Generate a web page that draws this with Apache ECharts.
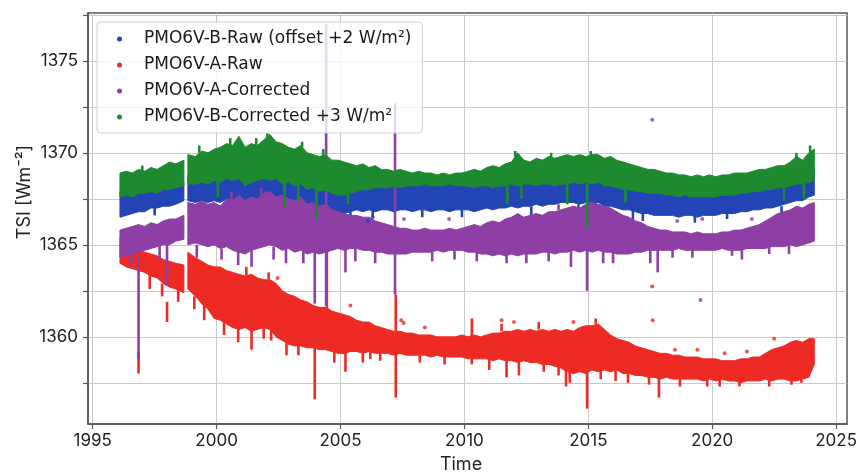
<!DOCTYPE html>
<html>
<head>
<meta charset="utf-8">
<script src="https://cdn.jsdelivr.net/npm/echarts@6/dist/echarts.min.js"></script>
<style>
  html, body { margin: 0; padding: 0; background: #ffffff; }
  #chart { width: 860px; height: 472px; }
</style>
</head>
<body>
<div id="chart"></div>
<script>
// Sample times (decimal year)
const years = [
  1996.10, 1996.35, 1996.60, 1996.85, 1997.10, 1997.35, 1997.60, 1997.85, 1998.10, 1998.35, 1998.68,
  1998.84,
  1999.15, 1999.40, 1999.65, 1999.90,
  2000.15, 2000.40, 2000.65, 2000.90,
  2001.15, 2001.40, 2001.65, 2001.90,
  2002.15, 2002.40, 2002.65, 2002.90,
  2003.15, 2003.40, 2003.65, 2003.90,
  2004.15, 2004.40, 2004.65, 2004.90,
  2005.15, 2005.40, 2005.65, 2005.90,
  2006.15, 2006.40, 2006.65, 2006.90,
  2007.15, 2007.40, 2007.65, 2007.90,
  2008.15, 2008.40, 2008.65, 2008.90,
  2009.15, 2009.40, 2009.65, 2009.90,
  2010.15, 2010.40, 2010.65, 2010.90,
  2011.15, 2011.40, 2011.65, 2011.90,
  2012.15, 2012.40, 2012.65, 2012.90,
  2013.15, 2013.40, 2013.65, 2013.90,
  2014.15, 2014.40, 2014.65, 2014.90,
  2015.15, 2015.40, 2015.65, 2015.90,
  2016.15, 2016.40, 2016.65, 2016.90,
  2017.15, 2017.40, 2017.65, 2017.90,
  2018.15, 2018.40, 2018.65, 2018.90,
  2019.15, 2019.40, 2019.65, 2019.90,
  2020.15, 2020.40, 2020.65, 2020.90,
  2021.15, 2021.40, 2021.65, 2021.90,
  2022.15, 2022.40, 2022.65, 2022.90,
  2023.15, 2023.40, 2023.65, 2023.90,
  2024.12
];

// Interruptions of the record (SOHO loss of contact): [last time before, first time after]
const dataGaps = [[1998.68, 1998.84]];

// PMO6V-B raw (offset +2 W/m2): lower / upper edge of the daily scatter
const bRawLow = [
  1366.5, 1366.6, 1366.7, 1366.8, 1366.8, 1367.0, 1367.0, 1367.1, 1367.1, 1367.2, 1367.4,
  1367.4,
  1367.3, 1367.4, 1367.3, 1367.4,
  1367.3, 1367.5, 1367.3, 1367.4,
  1367.1, 1367.3, 1367.2, 1367.4,
  1367.3, 1367.4, 1367.2, 1367.3,
  1367.1, 1367.2, 1367.0, 1367.1,
  1366.9, 1367.0, 1366.8, 1366.7,
  1366.7, 1366.8, 1366.9, 1366.8,
  1366.9, 1366.8, 1366.9, 1366.9,
  1366.8, 1366.9, 1366.9, 1366.8,
  1366.9, 1366.9, 1366.8, 1366.9,
  1366.9, 1366.8, 1366.9, 1366.9,
  1366.9, 1366.8, 1366.9, 1367.0,
  1366.9, 1367.0, 1367.0, 1367.1,
  1367.0, 1367.1, 1367.1, 1367.2,
  1367.1, 1367.2, 1367.2, 1367.3,
  1367.3, 1367.3, 1367.2, 1367.3,
  1367.2, 1367.3, 1367.1, 1367.1,
  1367.0, 1366.9, 1366.9, 1366.8,
  1366.7, 1366.7, 1366.6, 1366.6,
  1366.6, 1366.6, 1366.5, 1366.6,
  1366.6, 1366.5, 1366.6, 1366.6,
  1366.6, 1366.7, 1366.7, 1366.7,
  1366.8, 1366.8, 1366.9, 1366.9,
  1367.0, 1367.0, 1367.1, 1367.2,
  1367.3, 1367.4, 1367.4, 1367.6,
  1367.7
];
const bRawHigh = [
  1367.9, 1368.0, 1368.0, 1368.1, 1368.1, 1368.2, 1368.1, 1368.2, 1368.3, 1368.3, 1368.4,
  1368.8,
  1368.7, 1368.8, 1368.7, 1368.9,
  1368.8, 1369.0, 1368.9, 1369.0,
  1368.7, 1368.9, 1368.9, 1369.0,
  1369.0, 1369.0, 1368.8, 1368.8,
  1368.7, 1368.8, 1368.5, 1368.6,
  1368.4, 1368.5, 1368.3, 1368.2,
  1368.2, 1368.3, 1368.3, 1368.4,
  1368.4, 1368.4, 1368.4, 1368.4,
  1368.5, 1368.4, 1368.5, 1368.5,
  1368.5, 1368.5, 1368.5, 1368.5,
  1368.5, 1368.5, 1368.5, 1368.5,
  1368.5, 1368.5, 1368.5, 1368.6,
  1368.5, 1368.6, 1368.6, 1368.7,
  1368.7, 1368.7, 1368.7, 1368.7,
  1368.7, 1368.8, 1368.7, 1368.8,
  1368.8, 1368.8, 1368.8, 1368.9,
  1368.8, 1368.9, 1368.7, 1368.7,
  1368.6, 1368.5, 1368.4, 1368.3,
  1368.3, 1368.2, 1368.2, 1368.2,
  1368.1, 1368.1, 1368.0, 1368.1,
  1368.0, 1368.0, 1368.0, 1368.0,
  1368.0, 1368.1, 1368.1, 1368.2,
  1368.2, 1368.2, 1368.3, 1368.3,
  1368.4, 1368.4, 1368.5, 1368.6,
  1368.7, 1368.8, 1368.8, 1369.0,
  1369.1
];

// PMO6V-A raw
const aRawLow = [
  1364.0, 1363.8, 1363.7, 1363.6, 1363.5, 1363.3, 1363.2, 1362.9, 1362.7, 1362.6, 1362.4,
  1362.6,
  1362.2, 1361.8, 1361.5, 1361.0,
  1360.9, 1360.7, 1360.5, 1360.4,
  1360.5, 1360.3, 1360.4, 1360.5,
  1360.4, 1360.0, 1359.8, 1359.6,
  1359.5, 1359.5, 1359.4, 1359.4,
  1359.3, 1359.3, 1359.2, 1359.1,
  1359.1, 1359.2, 1359.2, 1359.1,
  1359.2, 1359.1, 1359.1, 1359.1,
  1359.0, 1359.1, 1359.0, 1359.0,
  1359.0, 1359.0, 1358.9, 1359.0,
  1358.9, 1358.9, 1358.9, 1358.9,
  1358.8, 1358.8, 1358.8, 1358.8,
  1358.7, 1358.8, 1358.7, 1358.7,
  1358.6, 1358.7, 1358.6, 1358.6,
  1358.5, 1358.5, 1358.4, 1358.3,
  1358.1, 1358.0, 1358.1, 1358.0,
  1358.2, 1358.1, 1358.2, 1358.1,
  1358.2, 1358.0, 1358.0, 1357.9,
  1357.9, 1357.8, 1357.8, 1357.7,
  1357.8, 1357.7, 1357.7, 1357.7,
  1357.7, 1357.7, 1357.6, 1357.7,
  1357.6, 1357.7, 1357.6, 1357.6,
  1357.5, 1357.6, 1357.6, 1357.6,
  1357.7, 1357.6, 1357.7, 1357.7,
  1357.6, 1357.6, 1357.7, 1357.8,
  1358.5
];
const aRawHigh = [
  1365.4, 1365.0, 1364.8, 1364.7, 1364.6, 1364.5, 1364.4, 1364.2, 1364.1, 1364.0, 1363.9,
  1364.6,
  1364.3, 1364.1, 1363.9, 1363.8,
  1363.8, 1363.6, 1363.5, 1363.4,
  1363.3, 1363.4, 1363.2, 1363.1,
  1363.1, 1362.9, 1362.5, 1362.3,
  1362.2, 1362.0, 1361.9, 1361.7,
  1361.6, 1361.6, 1361.4, 1361.3,
  1361.2, 1361.1, 1360.9, 1360.8,
  1360.8, 1360.6, 1360.5, 1360.4,
  1360.3, 1360.3, 1360.2, 1360.2,
  1360.1, 1360.1, 1360.1, 1360.0,
  1360.0, 1360.0, 1360.0, 1360.1,
  1360.0, 1360.1, 1360.0, 1360.1,
  1360.2, 1360.2, 1360.3, 1360.3,
  1360.4, 1360.3, 1360.4, 1360.3,
  1360.4, 1360.3, 1360.4, 1360.3,
  1360.4, 1360.3, 1360.5, 1360.6,
  1360.6, 1360.7, 1360.4, 1360.1,
  1359.9, 1359.8, 1359.7, 1359.5,
  1359.4, 1359.3, 1359.2, 1359.1,
  1359.1, 1359.0, 1359.0, 1358.9,
  1358.9, 1358.9, 1358.8, 1358.8,
  1358.8, 1358.7, 1358.7, 1358.7,
  1358.8, 1358.8, 1358.9, 1358.9,
  1359.1, 1359.3, 1359.4, 1359.5,
  1359.7, 1359.8, 1359.7, 1359.9,
  1359.9
];

// PMO6V-A corrected
const aCorLow = [
  1364.3, 1364.4, 1364.5, 1364.6, 1364.7, 1364.8, 1364.9, 1365.0, 1365.0, 1365.2, 1365.3,
  1365.0,
  1365.1, 1365.0, 1364.9, 1365.0,
  1364.8, 1364.9, 1364.7, 1364.6,
  1364.5, 1364.7, 1364.8, 1364.9,
  1365.0, 1364.9, 1364.7, 1364.8,
  1364.6, 1364.7, 1364.5, 1364.6,
  1364.5, 1364.6, 1364.7, 1364.8,
  1364.7, 1364.8, 1364.8, 1364.7,
  1364.7, 1364.6, 1364.6, 1364.5,
  1364.5, 1364.5, 1364.5, 1364.6,
  1364.6, 1364.6, 1364.6, 1364.7,
  1364.6, 1364.7, 1364.7, 1364.7,
  1364.6, 1364.6, 1364.5, 1364.5,
  1364.4, 1364.5, 1364.4, 1364.5,
  1364.4, 1364.5, 1364.5, 1364.5,
  1364.6, 1364.6, 1364.5, 1364.6,
  1364.6, 1364.7, 1364.6, 1364.7,
  1364.6, 1364.7, 1364.6, 1364.6,
  1364.5, 1364.5, 1364.5, 1364.6,
  1364.6, 1364.7, 1364.7, 1364.7,
  1364.7, 1364.7, 1364.8, 1364.7,
  1364.7, 1364.7, 1364.7, 1364.7,
  1364.7, 1364.8, 1364.7, 1364.7,
  1364.7, 1364.8, 1364.8, 1364.8,
  1364.8, 1364.9, 1364.9, 1364.9,
  1365.0, 1364.9, 1365.0, 1365.1,
  1365.2
];
const aCorHigh = [
  1365.8, 1365.9, 1366.0, 1366.1, 1366.0, 1366.2, 1366.1, 1366.3, 1366.4, 1366.4, 1366.6,
  1367.3,
  1367.2, 1367.4, 1367.2, 1367.3,
  1367.1, 1367.5, 1367.4, 1367.7,
  1367.4, 1367.6, 1367.5, 1367.8,
  1367.9, 1367.6, 1367.7, 1367.5,
  1367.4, 1367.6, 1367.2, 1367.3,
  1367.1, 1367.2, 1366.9, 1366.8,
  1366.7, 1366.6, 1366.6, 1366.5,
  1366.5, 1366.3, 1366.2, 1366.1,
  1366.0, 1365.9, 1365.9, 1365.8,
  1365.8, 1365.9, 1365.8, 1365.8,
  1365.8, 1365.9, 1365.8, 1365.9,
  1366.0, 1366.1, 1366.0, 1366.2,
  1366.3, 1366.2, 1366.4, 1366.5,
  1366.7, 1366.5, 1366.6, 1366.7,
  1366.6, 1366.8, 1366.8, 1366.9,
  1367.0, 1367.1, 1367.0, 1367.2,
  1367.3, 1367.2, 1367.1, 1367.0,
  1366.8, 1366.6, 1366.5, 1366.3,
  1366.2, 1366.0, 1365.9, 1365.8,
  1365.8, 1365.7, 1365.7, 1365.7,
  1365.6, 1365.7, 1365.6, 1365.6,
  1365.6, 1365.7, 1365.7, 1365.8,
  1365.8, 1365.9, 1366.0, 1366.1,
  1366.3, 1366.5, 1366.7, 1366.8,
  1366.9, 1367.1, 1367.0, 1367.2,
  1367.3
];

// PMO6V-B corrected (+3 W/m2)
const bCorLow = [
  1367.6, 1367.7, 1367.6, 1367.8, 1367.8, 1367.9, 1367.8, 1368.0, 1368.0, 1368.1, 1368.2,
  1368.3,
  1368.3, 1368.4, 1368.3, 1368.5,
  1368.4, 1368.6, 1368.5, 1368.6,
  1368.2, 1368.4, 1368.5, 1368.6,
  1368.5, 1368.6, 1368.3, 1368.4,
  1368.2, 1368.3, 1368.0, 1368.1,
  1367.9, 1368.0, 1367.8, 1367.7,
  1367.7, 1367.8, 1367.9, 1368.0,
  1368.0, 1368.1, 1368.1, 1368.1,
  1368.2, 1368.1, 1368.2, 1368.2,
  1368.2, 1368.3, 1368.2, 1368.2,
  1368.2, 1368.3, 1368.2, 1368.2,
  1368.2, 1368.1, 1368.2, 1368.2,
  1368.1, 1368.2, 1368.2, 1368.3,
  1368.2, 1368.3, 1368.3, 1368.2,
  1368.3, 1368.3, 1368.2, 1368.3,
  1368.3, 1368.4, 1368.3, 1368.4,
  1368.3, 1368.4, 1368.2, 1368.2,
  1368.1, 1368.0, 1368.0, 1367.9,
  1367.9, 1367.8, 1367.8, 1367.8,
  1367.7, 1367.7, 1367.6, 1367.7,
  1367.6, 1367.6, 1367.6, 1367.6,
  1367.6, 1367.7, 1367.7, 1367.7,
  1367.8, 1367.8, 1367.9, 1367.9,
  1368.0, 1368.0, 1368.1, 1368.1,
  1368.2, 1368.3, 1368.3, 1368.4,
  1368.5
];
const bCorHigh = [
  1368.9, 1369.0, 1368.9, 1369.1, 1369.0, 1369.2, 1369.1, 1369.3, 1369.5, 1369.4, 1369.6,
  1369.9,
  1369.8, 1370.1, 1370.0, 1370.2,
  1370.3, 1370.5, 1370.4, 1370.9,
  1370.3, 1370.5, 1370.4, 1370.7,
  1371.0, 1370.6, 1370.5, 1370.3,
  1370.2, 1370.4, 1370.0, 1369.9,
  1369.8, 1369.9, 1369.6, 1369.6,
  1369.5, 1369.4, 1369.3, 1369.4,
  1369.2, 1369.3, 1369.1, 1369.1,
  1369.0, 1369.1, 1369.0, 1368.9,
  1369.0, 1368.9, 1368.9, 1368.8,
  1368.9, 1368.8, 1368.9, 1368.9,
  1369.0, 1369.1, 1369.0, 1369.2,
  1369.3, 1369.2, 1369.4, 1369.5,
  1370.0, 1369.6, 1369.5, 1369.7,
  1369.6, 1369.8, 1369.7, 1369.8,
  1369.9, 1369.8, 1369.9, 1369.8,
  1369.9, 1369.9, 1369.7, 1369.8,
  1369.6, 1369.5, 1369.4, 1369.3,
  1369.2, 1369.1, 1369.1, 1369.0,
  1368.9, 1368.9, 1368.8, 1368.8,
  1368.7, 1368.8, 1368.7, 1368.8,
  1368.7, 1368.8, 1368.8, 1368.9,
  1368.9, 1368.9, 1369.0, 1369.1,
  1369.1, 1369.2, 1369.3, 1369.3,
  1369.5, 1369.8, 1369.6, 1370.0,
  1370.2
];

// Short-lived dips and jumps: [time, one end, other end]
const bRawSpikes = [
  [2001.0, 1367.2, 1366.5], [2003.5, 1367.0, 1366.4], [2005.05, 1366.8, 1366.2],
  [2005.4, 1366.8, 1366.3], [2006.3, 1366.9, 1366.5], [2009.9, 1366.9, 1366.5],
  [2012.7, 1367.1, 1366.6], [2016.8, 1366.9, 1366.3], [2017.2, 1366.7, 1366.3],
  [2019.3, 1366.6, 1366.2], [2022.8, 1367.1, 1366.7], [1997.5, 1367.0, 1366.6],
  [2008.3, 1366.9, 1366.5], [2014.6, 1367.2, 1366.8], [2020.6, 1366.7, 1366.4]
];
const aRawSpikes = [
  [1996.85, 1359.2, 1358.0], [1997.3, 1363.4, 1362.6], [1998.0, 1361.9, 1360.8],
  [1998.45, 1362.6, 1361.9], [1999.5, 1361.7, 1360.9], [2000.3, 1360.8, 1360.1],
  [2000.87, 1360.5, 1359.7], [2001.41, 1360.4, 1359.3], [2002.2, 1360.4, 1359.8],
  [2002.82, 1359.7, 1359.0], [2003.3, 1359.6, 1359.0], [2003.96, 1359.5, 1356.6],
  [2004.45, 1365.0, 1361.5], [2004.75, 1359.3, 1358.6], [2005.2, 1359.2, 1358.1],
  [2005.9, 1359.2, 1358.6], [2006.6, 1359.1, 1358.7], [2007.23, 1362.3, 1356.7],
  [2008.2, 1359.0, 1358.6], [2010.3, 1361.0, 1358.5], [2011.0, 1358.8, 1358.2],
  [2011.7, 1358.8, 1357.8], [2012.2, 1358.7, 1357.9], [2013.2, 1358.6, 1358.1],
  [2013.8, 1358.4, 1357.9], [2014.1, 1358.2, 1357.3], [2014.25, 1358.1, 1357.5],
  [2014.95, 1358.1, 1356.1], [2015.5, 1358.2, 1357.7], [2016.1, 1358.2, 1357.6],
  [2017.45, 1357.9, 1357.4], [2017.85, 1357.8, 1356.7], [2018.7, 1357.8, 1357.3],
  [2019.8, 1357.7, 1357.3], [2021.1, 1357.6, 1357.3], [2022.3, 1357.7, 1357.3],
  [2023.2, 1357.7, 1357.4], [2023.6, 1357.7, 1357.5],
  [1997.8, 1362.9, 1362.2], [1999.1, 1362.2, 1361.5], [2001.9, 1360.5, 1359.9],
  [2006.2, 1359.2, 1358.8], [2009.2, 1358.9, 1358.5], [2016.6, 1358.0, 1357.5],
  [2020.3, 1357.7, 1357.3], [2011.5, 1360.3, 1360.7], [2013.0, 1360.4, 1360.8],
  [2015.3, 1360.7, 1361.0], [2001.2, 1363.3, 1363.8], [2002.1, 1363.1, 1363.5]
];
const aCorSpikes = [
  [1996.85, 1364.4, 1358.8], [1996.55, 1364.6, 1363.9], [1997.7, 1365.0, 1364.2],
  [1998.0, 1365.1, 1362.8], [2000.87, 1364.7, 1363.9], [2001.41, 1364.8, 1363.8],
  [2002.8, 1364.8, 1364.0], [2003.96, 1364.6, 1361.8], [2004.42, 1377.0, 1361.7],
  [2005.2, 1364.8, 1363.5], [2005.6, 1364.8, 1364.1], [2006.4, 1364.7, 1364.0],
  [2007.2, 1372.7, 1362.3], [2010.5, 1364.6, 1364.1], [2011.7, 1364.5, 1364.0],
  [2012.5, 1364.6, 1364.0], [2013.4, 1364.6, 1364.1], [2014.3, 1364.7, 1363.8],
  [2014.95, 1364.7, 1362.5], [2016.0, 1364.6, 1364.0], [2017.5, 1364.7, 1364.0],
  [2017.8, 1364.7, 1363.5], [2018.4, 1364.8, 1364.3], [2020.8, 1364.8, 1364.4],
  [2021.2, 1364.8, 1364.2], [2023.1, 1365.0, 1364.5],
  [1999.2, 1365.0, 1364.3], [2000.2, 1364.8, 1364.2], [2002.3, 1364.9, 1364.2],
  [2003.5, 1364.7, 1364.0], [2008.7, 1364.6, 1364.1], [2009.6, 1364.7, 1364.2],
  [2015.6, 1364.6, 1364.0], [2019.2, 1364.7, 1364.3], [2022.3, 1364.9, 1364.5],
  [2000.6, 1367.4, 1367.9], [2001.8, 1367.7, 1368.1], [2013.8, 1366.9, 1367.2]
];
const bCorSpikes = [
  [2000.05, 1368.5, 1367.6], [2002.75, 1368.4, 1367.0], [2003.3, 1368.3, 1367.3],
  [2004.03, 1368.0, 1366.4], [2005.3, 1367.8, 1367.2], [2011.73, 1368.2, 1367.2],
  [2012.3, 1368.3, 1367.5], [2014.15, 1368.3, 1367.2], [2014.95, 1368.4, 1365.9],
  [2016.5, 1368.0, 1367.3], [2022.9, 1368.1, 1367.4], [2023.7, 1368.3, 1367.5],
  [1997.0, 1369.0, 1369.3], [1999.3, 1370.0, 1370.4], [2000.55, 1370.4, 1370.8],
  [2001.6, 1370.4, 1370.8], [2002.05, 1370.8, 1371.1], [2003.45, 1370.3, 1370.6],
  [2004.3, 1369.8, 1370.2], [2012.05, 1369.8, 1370.1], [2013.5, 1369.7, 1370.0],
  [2015.1, 1369.8, 1370.1], [2023.4, 1369.6, 1370.0], [2023.95, 1370.0, 1370.4]
];

// Isolated outlying days: [time, TSI]
const bRawOutliers = [[2006.1, 1366.3], [2006.3, 1366.5]];
const aRawOutliers = [
  [2002.46, 1363.2], [2005.4, 1361.7], [2007.45, 1360.9], [2007.55, 1360.75],
  [2008.4, 1360.5], [2011.5, 1360.9], [2012.0, 1360.8], [2014.4, 1360.8],
  [2017.58, 1362.74], [2017.6, 1360.9], [2018.5, 1359.3], [2019.4, 1359.3],
  [2020.5, 1359.1], [2021.4, 1359.2], [2022.5, 1359.9]
];
const aCorOutliers = [
  [2017.58, 1371.8], [2019.53, 1362.0], [2007.56, 1366.4], [2009.38, 1366.4],
  [2018.59, 1366.3], [2019.6, 1366.4], [2021.6, 1366.4]
];
const bCorOutliers = [];

const xTicks = [1995, 2000, 2005, 2010, 2015, 2020, 2025];
const yTicks = [1357.5, 1360, 1362.5, 1365, 1367.5, 1370, 1372.5, 1375, 1377.5];
const yLabels = [1360, 1365, 1370, 1375];

const NAMES = {
  bRaw: 'PMO6V-B-Raw (offset +2 W/m\u00B2)',
  aRaw: 'PMO6V-A-Raw',
  aCor: 'PMO6V-A-Corrected',
  bCor: 'PMO6V-B-Corrected +3 W/m\u00B2'
};
const COLORS = { bRaw: '#2244b4', aRaw: '#ee2a24', aCor: '#8d3fa6', bCor: '#1d8a30' };

// A sample opens a new run when it is the first one or the first after a gap
function runStarts() {
  return years.map((t, i) =>
    i === 0 || dataGaps.some(([a, b]) => years[i - 1] <= a && t >= b));
}

// Each run of samples is filled as one polygon: upper edge forward, lower edge back
function bandSeries(name, color, lo, hi) {
  const starts = runStarts();
  return {
    type: 'custom', name, silent: true, clip: true,
    itemStyle: { color },
    encode: { x: 0, y: [1, 2] },
    data: years.map((t, i) => [t, lo[i], hi[i]]),
    renderItem(params, api) {
      const i0 = params.dataIndex;
      if (!starts[i0]) return null;
      let i1 = i0;
      while (i1 + 1 < years.length && !starts[i1 + 1]) i1++;
      const pts = [];
      for (let i = i0; i <= i1; i++) pts.push(api.coord([years[i], hi[i]]));
      for (let i = i1; i >= i0; i--) pts.push(api.coord([years[i], lo[i]]));
      return {
        type: 'polygon',
        shape: { points: pts },
        style: { fill: color, stroke: color, lineWidth: 1 }
      };
    }
  };
}

function spikeSeries(name, color, spikes) {
  return {
    type: 'custom', name, silent: true, clip: true,
    itemStyle: { color },
    encode: { x: 0, y: [1, 2] },
    data: spikes,
    renderItem(params, api) {
      const a = api.coord([api.value(0), api.value(1)]);
      const b = api.coord([api.value(0), api.value(2)]);
      return {
        type: 'line',
        shape: { x1: a[0], y1: a[1], x2: b[0], y2: b[1] },
        style: { stroke: color, lineWidth: 2.6 }
      };
    }
  };
}

function dotSeries(name, color, pts) {
  return {
    type: 'scatter', name, silent: true,
    symbol: 'circle', symbolSize: 4,
    itemStyle: { color },
    data: pts
  };
}

const series = [];
[
  ['bRaw', bRawLow, bRawHigh, bRawSpikes, bRawOutliers],
  ['aRaw', aRawLow, aRawHigh, aRawSpikes, aRawOutliers],
  ['aCor', aCorLow, aCorHigh, aCorSpikes, aCorOutliers],
  ['bCor', bCorLow, bCorHigh, bCorSpikes, bCorOutliers]
].forEach(([key, lo, hi, spikes, dots]) => {
  series.push(bandSeries(NAMES[key], COLORS[key], lo, hi));
  series.push(spikeSeries(NAMES[key], COLORS[key], spikes));
  series.push(dotSeries(NAMES[key], COLORS[key], dots));
});

const tickFont = 'Inter';
const chart = echarts.init(document.getElementById('chart'), null, { renderer: 'canvas' });
chart.setOption({
  animation: false,
  backgroundColor: '#ffffff',
  grid: {
    left: 88, right: 13, top: 13, bottom: 48,
    show: true, borderColor: '#555555', borderWidth: 1.5, backgroundColor: 'transparent'
  },
  xAxis: {
    type: 'value', min: 1994.81, max: 2025.44,
    axisLine: { show: true, lineStyle: { color: '#555555', width: 1.5 } },
    axisTick: { show: true, length: 5, customValues: xTicks, lineStyle: { color: '#555555', width: 1.2 } },
    axisLabel: {
      customValues: xTicks, margin: 8, color: '#222222',
      fontFamily: tickFont, fontSize: 17, formatter: v => String(Math.round(v))
    },
    splitLine: { show: true, lineStyle: { color: '#c9c9c9', width: 1 } }
  },
  yAxis: {
    type: 'value', min: 1355.26, max: 1377.6,
    axisLine: { show: true, lineStyle: { color: '#555555', width: 1.5 } },
    axisTick: { show: true, length: 5, customValues: yTicks, lineStyle: { color: '#555555', width: 1.2 } },
    axisLabel: {
      customValues: yLabels, margin: 10, color: '#222222',
      fontFamily: tickFont, fontSize: 17, formatter: v => String(Math.round(v))
    },
    splitLine: { show: true, lineStyle: { color: '#c9c9c9', width: 1 } }
  },
  legend: {
    data: [NAMES.bRaw, NAMES.aRaw, NAMES.aCor, NAMES.bCor],
    orient: 'vertical', left: 97, top: 22,
    padding: [8, 11, 7, 20], itemGap: 8,
    itemWidth: 39, itemHeight: 5, icon: 'circle',
    selectedMode: false,
    backgroundColor: 'rgba(255,255,255,0.8)',
    borderColor: '#d0d0d0', borderWidth: 1, borderRadius: 4,
    textStyle: {
      fontFamily: 'DejaVu Sans', fontSize: 17, color: '#1a1a1a', lineHeight: 18
    }
  },
  graphic: [
    {
      type: 'text', x: 461, y: 465, silent: true,
      style: {
        text: 'Time', font: '18px Inter', fill: '#222222',
        align: 'center', verticalAlign: 'middle', textAlign: 'center', textVerticalAlign: 'middle'
      }
    },
    {
      type: 'text', x: 25, y: 192, rotation: Math.PI / 2, silent: true,
      style: {
        text: 'TSI [Wm\u207B\u00B2]', font: '18px Inter', fill: '#222222',
        align: 'center', verticalAlign: 'middle', textAlign: 'center', textVerticalAlign: 'middle'
      }
    }
  ],
  series
});
</script>
</body>
</html>
